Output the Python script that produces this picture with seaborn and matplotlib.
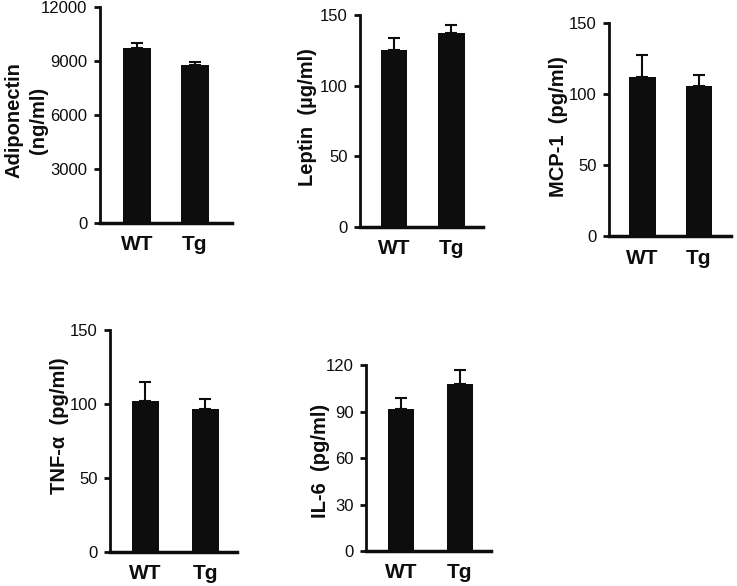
import matplotlib
matplotlib.use("Agg")
import matplotlib.pyplot as plt
import seaborn as sns

# ---- data ----
groups = ["WT", "Tg"]

adiponectin = [9700, 8800]
adiponectin_err = [280, 120]

leptin = [125, 137]
leptin_err = [9, 6]

mcp1 = [112, 105.5]
mcp1_err = [15, 8]

tnfa = [102, 96.5]
tnfa_err = [12.5, 7]

il6 = [91.5, 108]
il6_err = [7.5, 9]

ylabels = ["Adiponectin\n(ng/ml)", "Leptin  (µg/ml)", "MCP-1  (pg/ml)",
           "TNF-α  (pg/ml)", "IL-6  (pg/ml)"]
yticks = [[0, 3000, 6000, 9000, 12000], [0, 50, 100, 150], [0, 50, 100, 150],
          [0, 50, 100, 150], [0, 30, 60, 90, 120]]

sns.set_style("ticks")
plt.rcParams['font.family'] = ['Liberation Sans Narrow', 'Liberation Sans', 'DejaVu Sans']

W, H = 737, 586
fig = plt.figure(figsize=(W / 100, H / 100), dpi=100)
fig.patch.set_facecolor("white")

bar_color = "#0d0d0d"

panels = [
    dict(vals=adiponectin, err=adiponectin_err, box=(100, 232, 7, 223),
         xlim=(-0.64, 1.64), width=0.48, lab=(-0.557, 0.477)),
    dict(vals=leptin, err=leptin_err, box=(360, 483, 15, 227),
         xlim=(-0.59, 1.55), width=0.46, lab=(-0.423, 0.519)),
    dict(vals=mcp1, err=mcp1_err, box=(609, 731, 22.7, 236),
         xlim=(-0.59, 1.57), width=0.47, lab=(-0.418, 0.511)),
    dict(vals=tnfa, err=tnfa_err, box=(110, 237, 330, 551.7),
         xlim=(-0.59, 1.53), width=0.45, lab=(-0.394, 0.567)),
    dict(vals=il6, err=il6_err, box=(366, 491, 365.3, 551),
         xlim=(-0.59, 1.525), width=0.45, lab=(-0.368, 0.485)),
]

for p, ylab, ticks in zip(panels, ylabels, yticks):
    l, r, t, b = p['box']
    ax = fig.add_axes([l / W, 1 - b / H, (r - l) / W, (b - t) / H])
    sns.barplot(x=groups, y=p['vals'], ax=ax, color=bar_color, width=p['width'],
                saturation=1, errorbar=None, linewidth=0)
    for patch, e in zip(ax.patches, p['err']):
        xc = patch.get_x() + patch.get_width() / 2
        h = patch.get_height()
        ax.errorbar(xc, h, yerr=[[0], [e]], fmt="none", ecolor=bar_color,
                    elinewidth=1.5, capsize=4, capthick=1.5, zorder=1)
    ax.set_xlim(*p['xlim'])
    ax.set_ylim(ticks[0], ticks[-1])
    ax.set_yticks(ticks)
    ax.set_yticklabels([str(v) for v in ticks])
    sns.despine(ax=ax)
    ax.spines['left'].set_linewidth(2)
    ax.spines['bottom'].set_linewidth(2.5)
    ax.spines['left'].set_color(bar_color)
    ax.spines['bottom'].set_color(bar_color)
    ax.tick_params(axis='y', length=4, width=2, direction='out', pad=5,
                   labelsize=12, colors=bar_color)
    ax.tick_params(axis='x', length=0, pad=9, labelsize=15, colors=bar_color)
    for tl in ax.get_xticklabels():
        tl.set_fontfamily(['Liberation Sans', 'DejaVu Sans'])
        tl.set_fontweight('bold')
    ax.set_xlabel("")
    ax.set_ylabel(ylab, fontsize=14.5, fontweight='bold',
                  fontfamily=['Liberation Sans', 'DejaVu Sans'],
                  va='center', ha='center', linespacing=1.35, color=bar_color)
    ax.yaxis.set_label_coords(*p['lab'])
    ax.set_facecolor("white")

fig.savefig("out.png", dpi=100, facecolor="white")
